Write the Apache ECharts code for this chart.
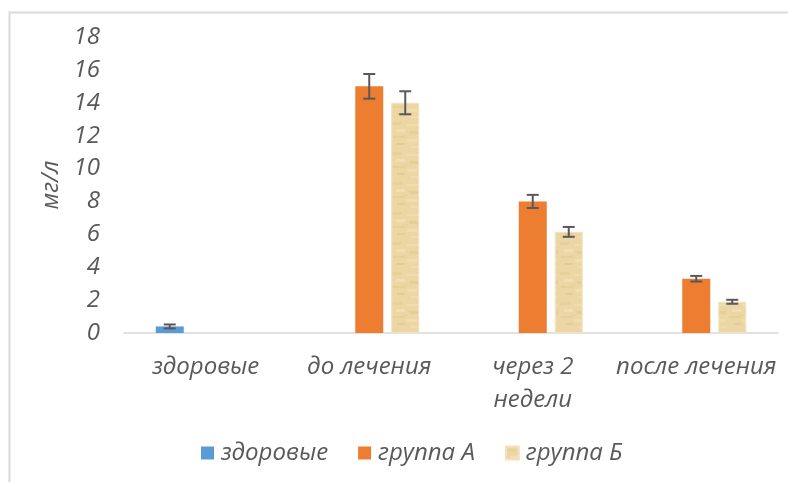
<!DOCTYPE html>
<html>
<head>
<meta charset="utf-8">
<script src="https://cdn.jsdelivr.net/npm/echarts@6/dist/echarts.min.js"></script>
<style>
html,body{margin:0;padding:0;background:#fff;}
#c{width:788px;height:482px;}
</style>
</head>
<body>
<div id="c"></div>
<script>
const categories = ['здоровые', 'до лечения', 'через 2\nнедели', 'после лечения'];
const seriesNames = ['здоровые', 'группа А', 'группа Б'];
const healthyValues = [0.4, null, null, null];
const groupAValues = [null, 15, 8, 3.3];
const groupBValues = [null, 14, 6.15, 1.9];
const healthyErr = [0.12, null, null, null];
const groupAErr = [null, 0.75, 0.4, 0.17];
const groupBErr = [null, 0.7, 0.3, 0.12];
const yTicks = [0, 2, 4, 6, 8, 10, 12, 14, 16, 18];

const FONT = 'Open Sans';
const FS = 24;
const TXT = '#595959';
const BAR_W = 28, GAP = 8;

// parchment-like texture for group Б
function makeTexture() {
  const cv = document.createElement('canvas');
  cv.width = 28; cv.height = 30;
  const g = cv.getContext('2d');
  g.fillStyle = '#ECD6A3';
  g.fillRect(0, 0, 28, 30);
  const blots = [
    [0, 2, 10, 3, '#E8D09A'], [14, 4, 12, 2, '#F0DCAE'], [4, 9, 9, 3, '#F1DEB2'],
    [17, 11, 9, 3, '#E6CE97'], [1, 16, 12, 2, '#E7CF99'], [15, 19, 10, 3, '#F0DDB0'],
    [5, 23, 8, 2, '#E5CC95'], [18, 26, 8, 2, '#EFDBAC'], [10, 14, 6, 2, '#EAD39F']
  ];
  blots.forEach(b => { g.fillStyle = b[4]; g.fillRect(b[0], b[1], b[2], b[3]); });
  return cv;
}
const texture = { image: makeTexture(), repeat: 'repeat' };

const colors = ['#5B9BD5', '#ED7D31', texture];
const valueSets = [healthyValues, groupAValues, groupBValues];
const errSets = [healthyErr, groupAErr, groupBErr];

const errData = [];
valueSets.forEach((vals, si) => {
  vals.forEach((v, ci) => {
    if (v != null) errData.push([ci, v, errSets[si][ci], si]);
  });
});

const labelStyle = { fontFamily: FONT, fontStyle: 'italic', fontSize: FS, color: TXT };

const chart = echarts.init(document.getElementById('c'));
chart.setOption({
  animation: false,
  backgroundColor: '#fff',
  textStyle: { fontFamily: FONT },
  graphic: [{
    type: 'rect', left: 7, top: 10, silent: true,
    shape: { width: 900, height: 600 },
    style: { fill: null, stroke: '#D9D9D9', lineWidth: 2 }
  }],
  grid: { left: 124, right: 10, top: 37, bottom: 149 },
  legend: {
    bottom: 12, left: 196,
    itemWidth: 13, itemHeight: 13, itemGap: 30,
    icon: 'rect',
    data: seriesNames,
    textStyle: Object.assign({ padding: [0, 0, 0, 2] }, labelStyle)
  },
  xAxis: {
    type: 'category', data: categories,
    axisLine: { lineStyle: { color: '#D9D9D9', width: 1.5 } },
    axisTick: { show: false },
    axisLabel: Object.assign({ margin: 18, lineHeight: 33, interval: 0 }, labelStyle)
  },
  yAxis: {
    type: 'value', min: 0, max: 18, interval: 2,
    name: 'мг/л', nameLocation: 'middle', nameGap: 56, nameRotate: 90,
    nameTextStyle: labelStyle,
    axisLine: { show: false }, axisTick: { show: false }, splitLine: { show: false },
    axisLabel: Object.assign({ margin: 24,
      formatter: v => (yTicks.indexOf(v) >= 0 ? String(v) : '') }, labelStyle)
  },
  series: seriesNames.map((n, i) => ({
    name: n, type: 'bar', data: valueSets[i], barWidth: BAR_W, barGap: (GAP / BAR_W * 100) + '%',
    itemStyle: { color: colors[i], borderColor: i === 2 ? '#F3E3BC' : null, borderWidth: i === 2 ? 1 : 0 }
  })).concat([{
    type: 'custom', name: 'err', silent: true, z: 10,
    data: errData,
    renderItem: function (params, api) {
      const ci = api.value(0), v = api.value(1), e = api.value(2), si = api.value(3);
      const off = (si - 1) * (BAR_W + GAP);
      const top = api.coord([ci, v + e]);
      const bot = api.coord([ci, v - e]);
      const x = top[0] + off;
      const hw = 6;
      const st = { stroke: '#595959', lineWidth: 2, fill: null };
      return { type: 'group', children: [
        { type: 'line', shape: { x1: x, y1: top[1], x2: x, y2: bot[1] }, style: st },
        { type: 'line', shape: { x1: x - hw, y1: top[1], x2: x + hw, y2: top[1] }, style: st },
        { type: 'line', shape: { x1: x - hw, y1: bot[1], x2: x + hw, y2: bot[1] }, style: st }
      ]};
    }
  }])
});
</script>
</body>
</html>
